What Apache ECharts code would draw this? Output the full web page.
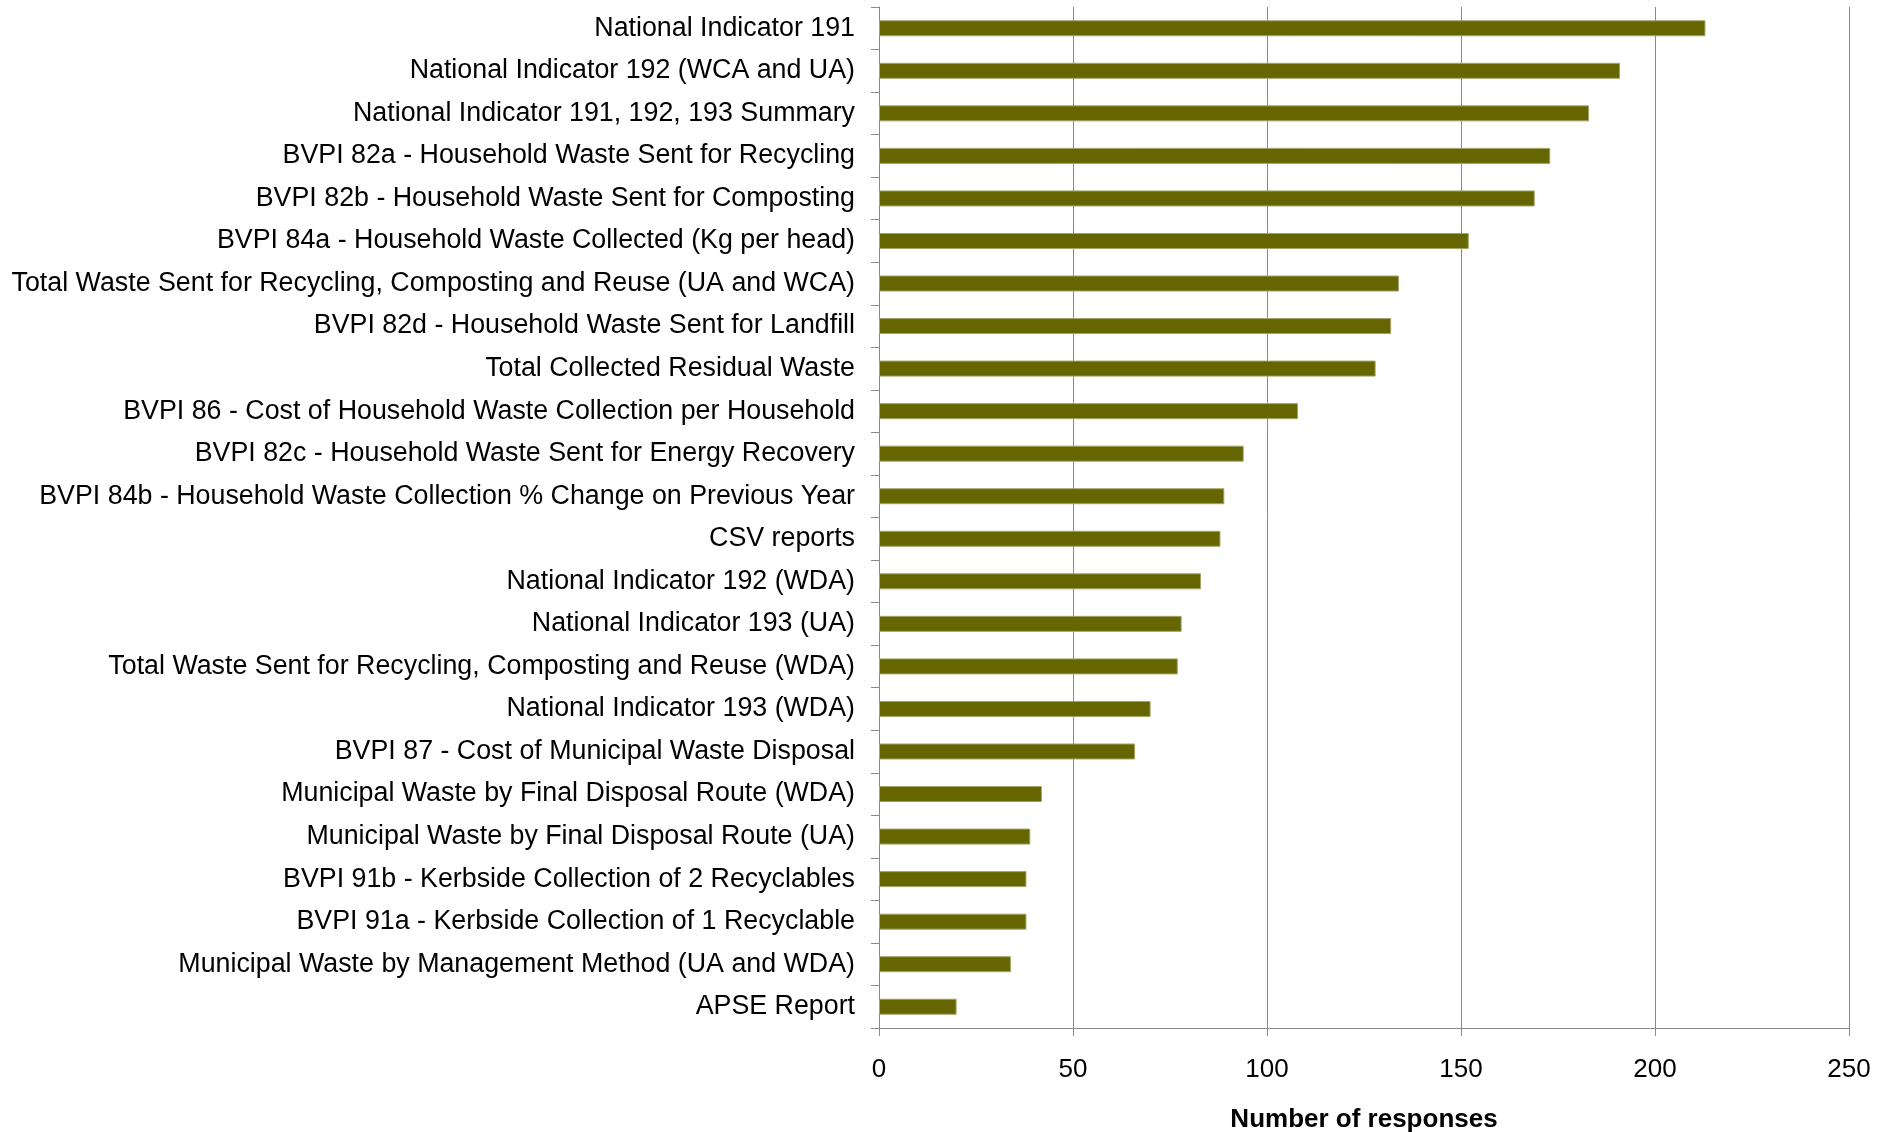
<!DOCTYPE html>
<html>
<head>
<meta charset="utf-8">
<script src="https://cdn.jsdelivr.net/npm/echarts@6/dist/echarts.min.js"></script>
<style>
html,body{margin:0;padding:0;background:#fff;}
#chart{width:1879px;height:1132px;}
</style>
</head>
<body>
<div id="chart"></div>
<script>
const categories = [
  "National Indicator 191",
  "National Indicator 192 (WCA and UA)",
  "National Indicator 191, 192, 193 Summary",
  "BVPI 82a - Household Waste Sent for Recycling",
  "BVPI 82b - Household Waste Sent for Composting",
  "BVPI 84a - Household Waste Collected (Kg per head)",
  "Total Waste Sent for Recycling, Composting and Reuse (UA and WCA)",
  "BVPI 82d - Household Waste Sent for Landfill",
  "Total Collected Residual Waste",
  "BVPI 86 - Cost of Household Waste Collection per Household",
  "BVPI 82c - Household Waste Sent for Energy Recovery",
  "BVPI 84b - Household Waste Collection % Change on Previous Year",
  "CSV reports",
  "National Indicator 192 (WDA)",
  "National Indicator 193 (UA)",
  "Total Waste Sent for Recycling, Composting and Reuse (WDA)",
  "National Indicator 193 (WDA)",
  "BVPI 87 - Cost of Municipal Waste Disposal",
  "Municipal Waste by Final Disposal Route (WDA)",
  "Municipal Waste by Final Disposal Route (UA)",
  "BVPI 91b - Kerbside Collection of 2 Recyclables",
  "BVPI 91a - Kerbside Collection of 1 Recyclable",
  "Municipal Waste by Management Method (UA and WDA)",
  "APSE Report"
];
const responses = [213, 191, 183, 173, 169, 152, 134, 132, 128, 108, 94, 89, 88, 83, 78, 77, 70, 66, 42, 39, 38, 38, 34, 20];
const xTicks = [0, 50, 100, 150, 200, 250];
const xAxisTitle = "Number of responses";

const chart = echarts.init(document.getElementById('chart'), null, {renderer: 'canvas'});
const font = "'Liberation Sans', Arial, sans-serif";
chart.setOption({
  animation: false,
  backgroundColor: '#ffffff',
  grid: {left: 879, right: 30, top: 7, bottom: 104, containLabel: false, outerBoundsMode: 'none'},
  xAxis: {
    type: 'value',
    min: xTicks[0],
    max: xTicks[xTicks.length - 1],
    interval: 50,
    name: xAxisTitle,
    nameLocation: 'middle',
    nameGap: 79,
    nameTextStyle: {fontFamily: font, fontSize: 26, fontWeight: 'bold', color: '#000'},
    axisLine: {show: true, lineStyle: {color: '#898989', width: 1}},
    axisTick: {show: true, length: 8, lineStyle: {color: '#898989'}},
    axisLabel: {fontFamily: font, fontSize: 26, color: '#000', margin: 29},
    splitLine: {show: true, lineStyle: {color: '#898989', width: 1}}
  },
  yAxis: {
    type: 'category',
    data: categories,
    inverse: true,
    axisLine: {show: true, lineStyle: {color: '#898989', width: 1}},
    axisTick: {show: true, length: 8, alignWithLabel: false, lineStyle: {color: '#898989'}},
    axisLabel: {fontFamily: font, fontSize: 26.8, color: '#000', margin: 24, padding: [5, 0, 0, 0]},
    splitLine: {show: false}
  },
  series: [{
    type: 'bar',
    data: responses,
    barWidth: 16,
    itemStyle: {color: '#666600', borderColor: '#a3a36a', borderWidth: 1}
  }]
});
</script>
</body>
</html>
